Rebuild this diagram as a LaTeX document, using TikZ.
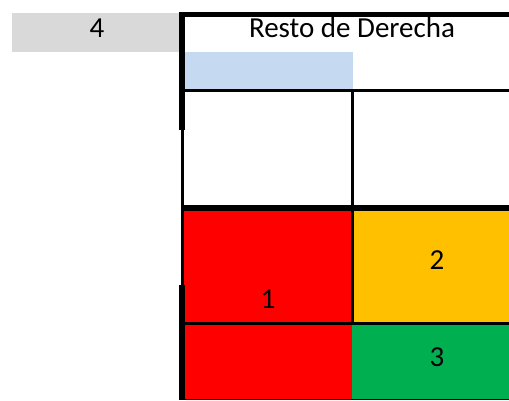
\documentclass[tikz,border=0pt]{standalone}
\usepackage{fontspec}
\setmainfont{Carlito}
\usepackage{tikz}

\definecolor{hellgrau}{HTML}{D9D9D9}
\definecolor{hellblau}{HTML}{C5D9F1}
\definecolor{rot}{HTML}{FF0000}
\definecolor{orange}{HTML}{FFC000}
\definecolor{gruen}{HTML}{00B050}

\begin{document}
\begin{tikzpicture}[x=1pt,y=-1pt,
	dicklinie/.style={line width=6pt},
	duennlinie/.style={line width=3.5pt},
	zelltext/.style={font=\fontsize{29}{34}\selectfont, inner sep=0pt}]
	% 画布大小,与原图一致
	\useasboundingbox (0,0) rectangle (509,400);
	
	% 灰色格子,写“4”
	\fill[hellgrau] (12,13) rectangle (180,52);
	\node[zelltext] (vier) at (97,28) {4};
	% 标题“Resto de Derecha”
	\node[zelltext] (titel) at (352,28) {Resto de Derecha};
	% 浅蓝色格子
	\fill[hellblau] (184,52) rectangle (353,89);
	
	% 彩色格子:红、橙、绿
	\fill[rot] (183,209) rectangle (352,399);
	\fill[orange] (352,209) rectangle (509,323);
	\fill[gruen] (352,323) rectangle (509,399);
	
	% 格子里的数字
	\node[zelltext] (eins) at (268,299) {1};
	\node[zelltext] (zwei) at (437,260) {2};
	\node[zelltext] (drei) at (437,357) {3};
	
	% 横线
	\draw[line width=5pt] (179,14.5) -- (509,14.5);
	\draw[duennlinie] (182,90.5) -- (509,90.5);
	\draw[dicklinie] (182,208) -- (509,208);
	\draw[duennlinie] (182,323.5) -- (509,323.5);
	\draw[line width=1pt] (182,399.5) -- (509,399.5);
	
	% 竖线:左边粗细交替,中间一条
	\draw[dicklinie] (182,12) -- (182,130);
	\draw[line width=3pt] (182.5,130) -- (182.5,285);
	\draw[dicklinie] (182,285) -- (182,400);
	\draw[duennlinie] (352.5,90) -- (352.5,323);
	
\end{tikzpicture}
\end{document}
